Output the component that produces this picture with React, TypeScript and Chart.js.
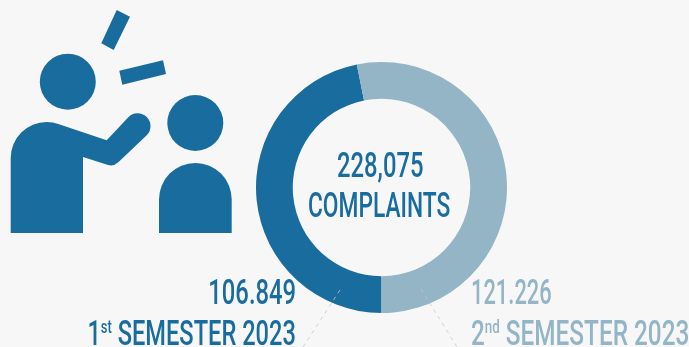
import React, { useEffect, useRef } from "react";
import { Chart, registerables } from "chart.js";

Chart.register(...registerables);

const categories = ["1st SEMESTER 2023", "2nd SEMESTER 2023"];
const seriesValues = [106849, 121226];
const valueLabels = ["106.849", "121.226"];
const totalLabel = "228,075";
const totalUnit = "COMPLAINTS";
const DARK = "#196c9e";
const LIGHT = "#93b5c6";
const FONT = "Roboto, sans-serif";
const SIZE = 35;

function Txt({ x, y, right, color, sx, children }: any) {
  const style: React.CSSProperties = {
    position: "absolute",
    top: y,
    color,
    fontFamily: FONT,
    fontSize: SIZE,
    fontWeight: 500,
    lineHeight: 1,
    whiteSpace: "nowrap",
    transform: `scaleX(${sx})`,
    transformOrigin: right !== undefined ? "right top" : "left top",
  };
  if (right !== undefined) style.right = right;
  else style.left = x;
  return <div style={style}>{children}</div>;
}

const sup: React.CSSProperties = { fontSize: "0.55em", verticalAlign: "0.62em", lineHeight: 0 };

export default function App() {
  const ref = useRef<HTMLCanvasElement>(null);
  useEffect(() => {
    document.body.style.margin = "0";
    const chart = new Chart(ref.current!, {
      type: "doughnut",
      data: {
        labels: categories,
        datasets: [{ data: seriesValues, backgroundColor: [DARK, LIGHT], borderWidth: 0 }],
      },
      options: {
        responsive: false,
        animation: false,
        rotation: 180,
        cutout: "70.7%",
        plugins: { legend: { display: false }, tooltip: { enabled: false } },
      },
    });
    return () => chart.destroy();
  }, []);
  return (
    <div style={{ position: "relative", width: 689, height: 347, overflow: "hidden", background: "#f8f7f8" }}>
      <svg width={689} height={347} style={{ position: "absolute", left: 0, top: 0 }}>
        <g fill={DARK}>
          <circle cx={67.8} cy={81.7} r={28} />
          <circle cx={195.3} cy={123} r={28} />
          <polygon points="116.7,10 130,16.7 113.7,50 101.3,43.3" />
          <polygon points="119.3,70.7 163,60.3 166,74 122.3,84.7" />
          <path d="M159,233 V199.3 A36.3,36.3 0 0 1 231.7,199.3 V233 Z" />
          <path d="M10.7,233 V158 A36,36 0 0 1 46.7,122 Q53,122 58.3,124 L106.7,140.3 L128.3,117.3 A11.5,11.5 0 0 1 147,135 L118.3,162.3 Q114,166.5 108,165 L83,157 V233 Z" />
        </g>
      </svg>
      <canvas ref={ref} width={251} height={251} style={{ position: "absolute", left: 256, top: 62 }} />
      <svg width={689} height={347} style={{ position: "absolute", left: 0, top: 0 }}>
        <g stroke="#c4c8cc" strokeWidth={0.8} strokeDasharray="4 4" fill="none">
          <line x1={340} y1={290} x2={303} y2={347} />
          <line x1={421} y1={289} x2={457} y2={347} />
        </g>
      </svg>
      <Txt x={337} y={148} color={DARK} sx={0.68}>{totalLabel}</Txt>
      <Txt x={308} y={188} color={DARK} sx={0.65}>{totalUnit}</Txt>
      <Txt right={689 - 296} y={275} color={DARK} sx={0.68}>{valueLabels[0]}</Txt>
      <Txt right={689 - 296} y={316} color={DARK} sx={0.675}>1<span style={sup}>st</span>{categories[0].slice(3)}</Txt>
      <Txt x={471} y={275} color={LIGHT} sx={0.625}>{valueLabels[1]}</Txt>
      <Txt x={471} y={316} color={LIGHT} sx={0.695}>2<span style={sup}>nd</span>{categories[1].slice(3)}</Txt>
    </div>
  );
}
